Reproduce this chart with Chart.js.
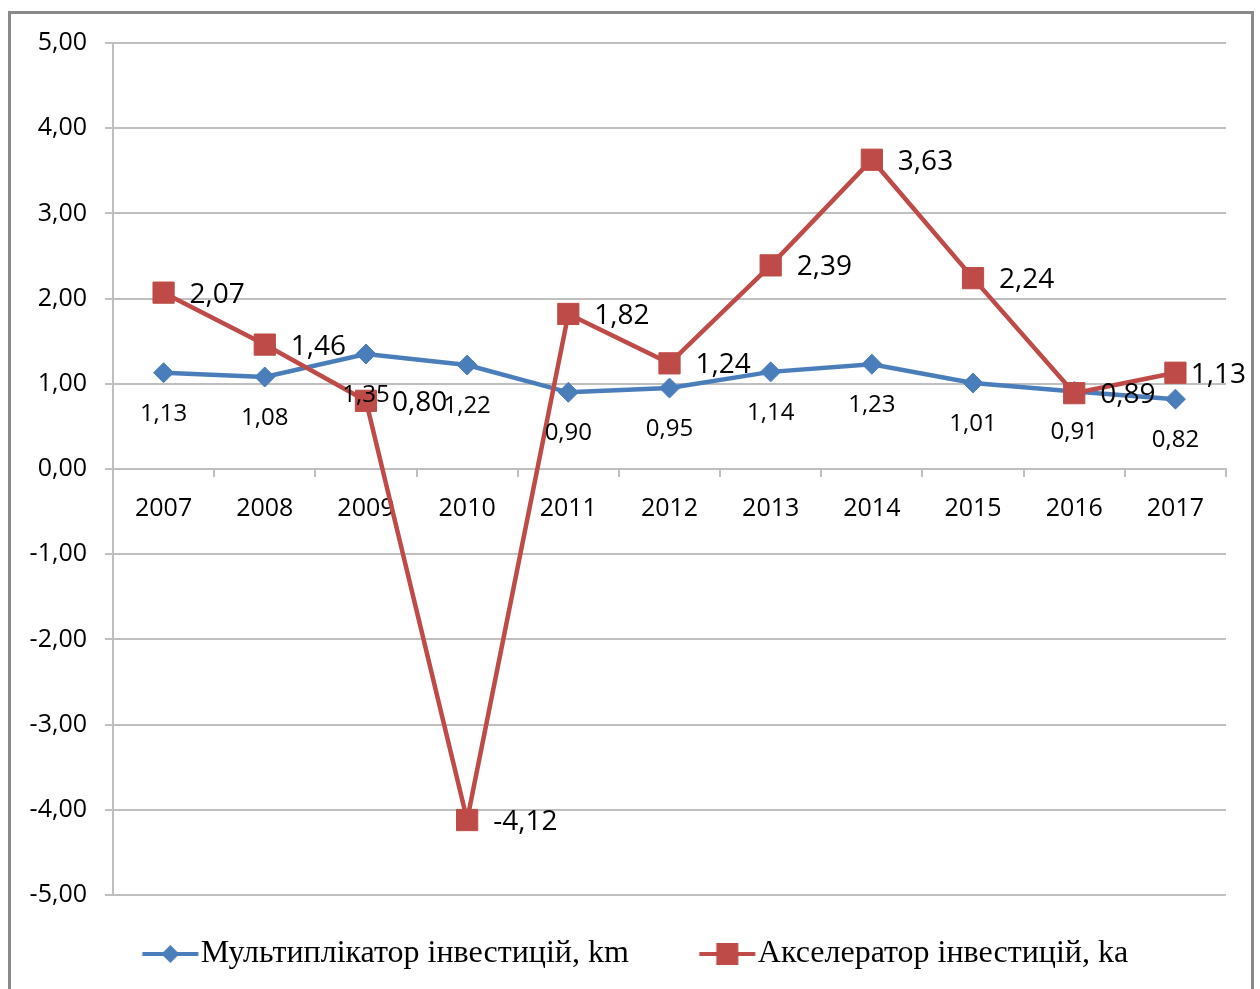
<!DOCTYPE html>
<html>
<head>
<meta charset="utf-8">
<script src="https://cdn.jsdelivr.net/npm/chart.js@4"></script>
<style>
  html, body { margin: 0; padding: 0; background: #fff; }
  #wrap { width: 1260px; height: 989px; }
</style>
</head>
<body>
<div id="wrap"><canvas id="myChart"></canvas></div>
<script>
// дані з графіка
const years = ["2007", "2008", "2009", "2010", "2011", "2012", "2013", "2014", "2015", "2016", "2017"];
const multiplikator = [1.13, 1.08, 1.35, 1.22, 0.90, 0.95, 1.14, 1.23, 1.01, 0.91, 0.82];
const akselerator = [2.07, 1.46, 0.80, -4.12, 1.82, 1.24, 2.39, 3.63, 2.24, 0.89, 1.13];
const seriesNames = ["Мультиплікатор інвестицій, km", "Акселератор інвестицій, ka"];
const yMin = -5, yMax = 5, yStep = 1;

const blue = "#4a7ebb";
const red = "#be4b48";

const fmt = (v) => v.toFixed(2).replace(".", ",");

// значок легенди: лінія з маркером
function legendIcon(color, kind) {
  const c = document.createElement("canvas");
  c.width = 104; c.height = 30;
  const g = c.getContext("2d");
  const cx = 52 + 20.5;
  g.strokeStyle = color;
  g.lineWidth = 4;
  g.beginPath();
  g.moveTo(cx - 28, 15);
  g.lineTo(cx + 28, 15);
  g.stroke();
  g.fillStyle = color;
  if (kind === "diamond") {
    g.beginPath();
    g.moveTo(cx, 6); g.lineTo(cx + 9, 15); g.lineTo(cx, 24); g.lineTo(cx - 9, 15);
    g.closePath();
    g.fill();
  } else {
    g.fillRect(cx - 11, 4, 22, 22);
  }
  return c;
}
const icons = [legendIcon(blue, "diamond"), legendIcon(red, "square")];

const frame = {
  id: "frame",
  beforeDraw(chart) {
    const ctx = chart.ctx;
    ctx.save();
    ctx.fillStyle = "#fff";
    ctx.fillRect(0, 0, chart.width, chart.height);
    ctx.strokeStyle = "#8a8a8a";
    ctx.lineWidth = 3;
    ctx.strokeRect(9.5, 12.5, 1243, 1000);
    ctx.restore();
  }
};

const valueLabels = {
  id: "valueLabels",
  afterDatasetsDraw(chart) {
    const ctx = chart.ctx;
    ctx.save();
    ctx.fillStyle = "#000";
    ctx.textBaseline = "middle";
    chart.data.datasets.forEach((ds, di) => {
      const meta = chart.getDatasetMeta(di);
      meta.data.forEach((pt, i) => {
        const txt = fmt(ds.data[i]);
        if (di === 0) {
          ctx.font = '24px "Open Sans"';
          ctx.textAlign = "center";
          ctx.fillText(txt, pt.x, pt.y + 41);
        } else {
          ctx.font = '28px "Open Sans"';
          ctx.textAlign = "left";
          const w = ctx.measureText(txt).width;
          const x = Math.min(pt.x + 26, 1246 - w);
          ctx.fillText(txt, x, pt.y + 2);
        }
      });
    });
    ctx.restore();
  }
};

const ctx = document.getElementById("myChart").getContext("2d");

const myChart = new Chart(ctx, {
  type: "line",
  data: {
    labels: years,
    datasets: [
      {
        label: seriesNames[0],
        data: multiplikator,
        borderColor: blue,
        backgroundColor: blue,
        borderWidth: 4.5,
        pointStyle: "rectRot",
        pointRadius: 10,
        pointBorderWidth: 1,
        tension: 0,
        order: 1
      },
      {
        label: seriesNames[1],
        data: akselerator,
        borderColor: red,
        backgroundColor: red,
        borderWidth: 4.5,
        pointStyle: "rect",
        pointRadius: 15,
        pointBorderWidth: 1,
        tension: 0,
        order: 0
      }
    ]
  },
  options: {
    responsive: true,
    maintainAspectRatio: false,
    devicePixelRatio: 1,
    animation: false,
    layout: { padding: { left: 17, right: 34, top: 43, bottom: 9 } },
    plugins: {
      tooltip: { enabled: false },
      legend: {
        position: "bottom",
        labels: {
          usePointStyle: true,
          pointStyleWidth: 70,
          padding: 43,
          color: "#000",
          font: { family: "Liberation Serif", size: 32 },
          generateLabels(chart) {
            const items = Chart.defaults.plugins.legend.labels.generateLabels(chart);
            items.forEach((it) => { it.pointStyle = icons[it.datasetIndex]; });
            return items.sort((a, b) => a.datasetIndex - b.datasetIndex);
          }
        }
      }
    },
    scales: {
      x: {
        type: "category",
        offset: true,
        position: { y: 0 },
        grid: { offset: true, drawOnChartArea: false, drawTicks: true, tickLength: 7, color: "#bfbfbf", lineWidth: 2 },
        border: { display: true, color: "#bfbfbf", width: 2 },
        ticks: { font: { family: "Open Sans", size: 25 }, color: "#000", padding: 18, maxRotation: 0, autoSkip: false }
      },
      y: {
        min: yMin,
        max: yMax,
        ticks: {
          stepSize: yStep,
          callback: (v) => fmt(v),
          font: { family: "Open Sans", size: 25 },
          color: "#000",
          padding: 18
        },
        grid: { color: "#bfbfbf", lineWidth: 2, tickLength: 8 },
        border: { color: "#bfbfbf", width: 2 },
        afterFit(scale) { scale.width = 96; }
      }
    }
  },
  plugins: [frame, valueLabels]
});
</script>
</body>
</html>
